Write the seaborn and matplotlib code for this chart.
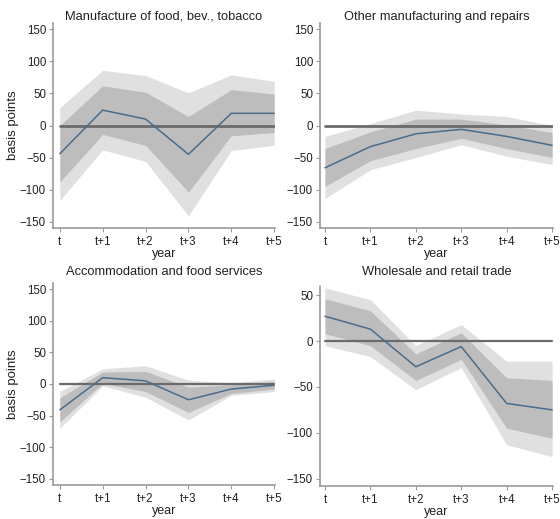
import numpy as np
import pandas as pd
import seaborn as sns
import matplotlib
matplotlib.use("Agg")
import matplotlib.pyplot as plt

sns.set_style("white")
plt.rcParams['font.family'] = ['Liberation Sans', 'DejaVu Sans']

# horizon labels
years = ["t", "t+1", "t+2", "t+3", "t+4", "t+5"]
titles = ["Manufacture of food, bev., tobacco", "Other manufacturing and repairs",
          "Accommodation and food services", "Wholesale and retail trade"]

# point estimates (basis points)
est_food = [-44, 24, 10, -45, 19, 19]
est_other = [-66, -33, -13, -6, -17, -31]
est_accom = [-41, 10, 5, -25, -8, -2]
est_trade = [27, 13, -28, -6, -68, -75]

# inner (dark) band
lo_in_food = [-88, -14, -31, -104, -16, -11]
hi_in_food = [0, 62, 52, 14, 56, 49]
lo_in_other = [-95, -55, -36, -20, -36, -50]
hi_in_other = [-36, -10, 10, 10, 1, -11]
lo_in_accom = [-60, 1, -12, -45, -15, -8]
hi_in_accom = [-22, 19, 20, -5, -1, 4]
lo_in_trade = [8, -5, -43, -20, -95, -106]
hi_in_trade = [46, 33, -14, 9, -40, -43]

# outer (light) band
lo_out_food = [-117, -38, -56, -141, -39, -31]
hi_out_food = [28, 86, 78, 51, 79, 69]
lo_out_other = [-114, -69, -50, -30, -48, -61]
hi_out_other = [-17, 3, 24, 18, 14, 0]
lo_out_accom = [-70, -3, -21, -57, -18, -12]
hi_out_accom = [-12, 24, 29, 6, 2, 8]
lo_out_trade = [-5, -17, -53, -29, -113, -126]
hi_out_trade = [58, 45, -5, 18, -22, -22]

panels = [
    (est_food, lo_in_food, hi_in_food, lo_out_food, hi_out_food),
    (est_other, lo_in_other, hi_in_other, lo_out_other, hi_out_other),
    (est_accom, lo_in_accom, hi_in_accom, lo_out_accom, hi_out_accom),
    (est_trade, lo_in_trade, hi_in_trade, lo_out_trade, hi_out_trade),
]

fig = plt.figure(figsize=(5.6, 5.19), dpi=100)
W, H = 560, 519
boxes = [(53, 23, 275, 228), (320, 23, 553, 228),
         (53, 283, 275, 485), (320, 286, 553, 486)]
title_pads = [2.5, 2.5, 6, 8]
zero_lw = [2, 2, 1.6, 1.6]

spine_col = "#9a9a9a"
for i, (est, lo_in, hi_in, lo_out, hi_out) in enumerate(panels):
    x0, y0, x1, y1 = boxes[i]
    ax = fig.add_axes([x0 / W, 1 - y1 / H, (x1 - x0) / W, (y1 - y0) / H])
    df = pd.DataFrame({"x": np.arange(len(years)), "est": est,
                       "lo_in": lo_in, "hi_in": hi_in,
                       "lo_out": lo_out, "hi_out": hi_out})
    ax.fill_between(df["x"], df["lo_out"], df["hi_out"], color="#e0e0e0", lw=0)
    ax.fill_between(df["x"], df["lo_in"], df["hi_in"], color="#bdbdbd", lw=0)
    ax.plot([0, 5], [0, 0], color="#6b6b6b", lw=zero_lw[i], zorder=3)
    sns.lineplot(data=df, x="x", y="est", ax=ax, color="#4a6d8c", lw=1.1, zorder=4)

    off = 0.16 if i % 2 == 0 else 0.11
    ax.set_xlim(-off, 5.02)
    if i == 3:
        ax.set_ylim(-158, 60)
        ax.set_yticks([-150, -100, -50, 0, 50])
    else:
        ax.set_ylim(-160, 160)
        ax.set_yticks([-150, -100, -50, 0, 50, 100, 150])
    ax.set_xticks(range(len(years)))
    ax.set_xticklabels(years)
    ax.set_title(titles[i], fontsize=9.3, pad=title_pads[i], color="#222222")
    ax.set_xlabel("year", fontsize=9, labelpad=0, color="#222222")
    ax.set_ylabel("basis points" if i % 2 == 0 else "", fontsize=9.5,
                  labelpad=1, color="#222222")
    for s in ["top", "right"]:
        ax.spines[s].set_visible(False)
    for s in ["left", "bottom"]:
        ax.spines[s].set_color(spine_col)
        ax.spines[s].set_linewidth(1.2)
    ax.tick_params(axis="both", which="both", direction="out", length=3, width=0.8,
                   color=spine_col, labelsize=8.3, labelcolor="#222222", pad=2)
    ax.tick_params(axis="x", pad=2.5)
    ax.tick_params(bottom=True, left=True)

fig.savefig("out.png", dpi=100)
